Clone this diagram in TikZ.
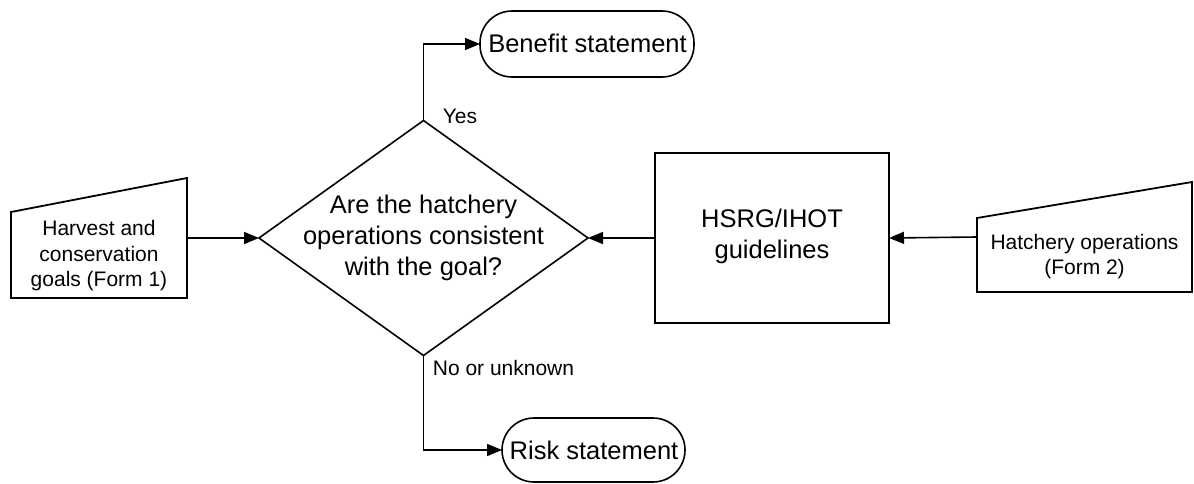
\documentclass[tikz,border=0pt]{standalone}
\usepackage{fontspec}
\setmainfont{Liberation Sans}
\usetikzlibrary{shapes.geometric,arrows.meta,calc}
\tikzset{
  conn/.style={line width=1.6pt,-{Triangle[length=15pt,width=12pt]}},
  boxline/.style={line width=1.8pt},
  small/.style={font=\fontsize{21pt}{25.5pt}\selectfont,align=center,inner sep=0pt},
  big/.style={font=\fontsize{25.5pt}{31pt}\selectfont,align=center,inner sep=0pt},
  shapebox/.style={rectangle,inner sep=0pt,outer sep=0pt},
  term/.style={draw,line width=1.6pt,rectangle,rounded corners=32pt,inner sep=0pt,outer sep=0pt},
}
\begin{document}
\begin{tikzpicture}[x=1pt,y=-1pt]
\useasboundingbox (0,0) rectangle (1194,483);
% manual input: harvest
\node[shapebox,minimum width=176pt,minimum height=120pt] (h) at (99,238) {};
\draw[boxline,line join=miter] (h.south west) -- (h.south east) -- (h.north east) -- ($(h.north west)+(0,34)$) -- cycle;
\node[small] (ht) at ($(h.center)+(0,18)$) {Harvest and\\conservation\\goals (Form 1)};
% manual input: hatchery operations
\node[shapebox,minimum width=215pt,minimum height=110pt] (f) at (1084.5,237) {};
\draw[boxline,line join=miter] (f.south west) -- (f.south east) -- (f.north east) -- ($(f.north west)+(0,36)$) -- cycle;
\node[small] (ft) at ($(f.center)+(0,19.5)$) {Hatchery operations\\(Form 2)};
% HSRG box
\node[draw,boxline,shapebox,minimum width=234pt,minimum height=170pt] (g) at (772,238) {};
\node[big] (gt) at (772,236) {HSRG/IHOT\\guidelines};
% decision diamond
\node[draw,line width=1.6pt,diamond,inner sep=0pt,outer sep=0pt,minimum width=329pt,minimum height=235pt] (d) at (423.5,238) {};
\node[big] (dt) at (423.5,237.5) {Are the hatchery\\operations consistent\\with the goal?};
% terminators
\node[term,minimum width=214pt,minimum height=66pt] (b) at (587,44) {};
\node[big] (bt) at (587.5,43) {Benefit statement};
\node[term,minimum width=183pt,minimum height=64pt] (r) at (593.5,450) {};
\node[big] (rt) at (594,450) {Risk statement};
% connectors
\draw[conn] (h.east) -- (d.west);
\draw[conn] (g.west) -- (d.east);
\draw[conn] (f.west) -- (g.east);
\draw[conn] (d.north) |- (b.west);
\draw[conn] (d.south) |- (r.west);
% labels
\node[small] (yes) at (460,116) {Yes};
\node[small] (no) at (503.5,368) {No or unknown};
\end{tikzpicture}
\end{document}
